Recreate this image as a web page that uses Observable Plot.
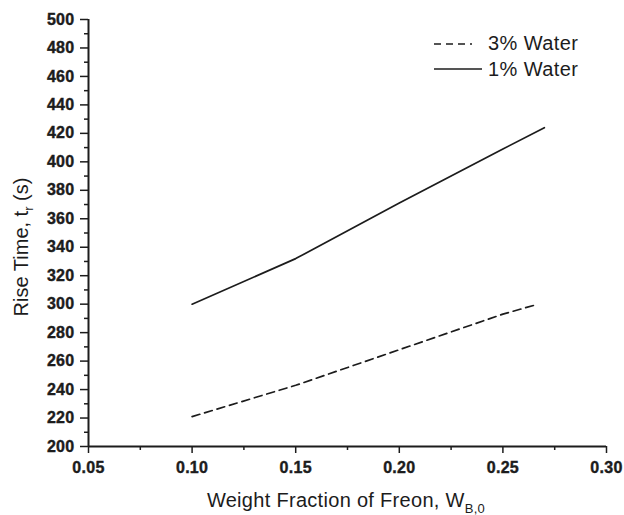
<!DOCTYPE html>
<html><head><meta charset="utf-8">
<script src="https://cdn.jsdelivr.net/npm/d3@7"></script>
<script src="https://cdn.jsdelivr.net/npm/@observablehq/plot@0.6"></script>
<style>
body{margin:0;background:#fff}
svg{font-family:"Liberation Sans",Arial,Helvetica,sans-serif}
svg text{font-weight:700}
svg text.lbl, svg text.lbl tspan{font-weight:400}
</style>
</head><body><div id="chart"></div>
<script>
// Series: 3% water (dashed)
const water3Fraction = [0.10, 0.15, 0.20, 0.25, 0.267];
const water3Rise     = [221, 243, 268, 293, 300];
// Series: 1% water (solid)
const water1Fraction = [0.10, 0.15, 0.20, 0.25, 0.27];
const water1Rise     = [300, 332, 371, 409, 424];

const seriesNames = ["3% Water", "1% Water"];
const xMajorTicks = [0.05, 0.10, 0.15, 0.20, 0.25, 0.30];
const xMinorTicks = [0.075, 0.125, 0.175, 0.225, 0.275];
const yMajorTicks = d3.range(200, 501, 20);
const yMinorTicks = d3.range(210, 500, 20);
const xLabel = ["Weight Fraction of Freon, W", "B,0"];
const yLabel = ["Rise Time, t", "r", " (s)"];

const rows3 = water3Fraction.map((x, i) => ({x, y: water3Rise[i], s: seriesNames[0]}));
const rows1 = water1Fraction.map((x, i) => ({x, y: water1Rise[i], s: seriesNames[1]}));

const ink = "#1c1c1c";
const plot = Plot.plot({
  width: 624, height: 515,
  marginLeft: 88, marginRight: 18, marginTop: 19, marginBottom: 69,
  style: {background: "white", color: ink, fontFamily: '"Liberation Sans",Arial,sans-serif', overflow: "visible"},
  x: {domain: [0.05, 0.30]},
  y: {domain: [200, 500]},
  marks: [
    Plot.axisY({ticks: yMajorTicks, tickSize: 8, tickPadding: 6, tickFormat: d => String(d), fontSize: 16, fontWeight: "bold", label: null, strokeWidth: 1.5}),
    Plot.axisY({ticks: yMinorTicks, tickSize: 4, tickFormat: () => "", label: null, strokeWidth: 1.5}),
    Plot.axisX({ticks: xMajorTicks, tickSize: 7, tickPadding: 8, tickFormat: d3.format(".2f"), fontSize: 16, fontWeight: "bold", label: null, strokeWidth: 1.5}),
    Plot.axisX({ticks: xMinorTicks, tickSize: 4, tickFormat: () => "", label: null, strokeWidth: 1.5}),
    Plot.ruleX([0.05], {stroke: ink, strokeWidth: 2}),
    Plot.ruleY([200], {stroke: ink, strokeWidth: 2}),
    Plot.line(rows3, {x: "x", y: "y", stroke: ink, strokeWidth: 1.7, strokeDasharray: "8,5"}),
    Plot.line(rows1, {x: "x", y: "y", stroke: ink, strokeWidth: 1.7})
  ]
});
document.getElementById("chart").append(plot);

const svg = d3.select(plot);
svg.selectAll("text").filter(function(){ return !this.classList.contains("lbl"); })
  .style("font-size", "16px").style("letter-spacing", "0.3px")
  .style("stroke", ink).style("stroke-width", "0.4px");

// axis labels
const xl = svg.append("text").attr("class", "lbl").attr("x", 346).attr("y", 507).attr("text-anchor", "middle")
  .attr("font-size", 20).attr("fill", ink).style("letter-spacing", "0.3px");
xl.append("tspan").text(xLabel[0]);
xl.append("tspan").attr("font-size", 13).attr("dy", 6).text(xLabel[1]);

const yl = svg.append("text").attr("class", "lbl").attr("transform", "translate(28,247) rotate(-90)").attr("text-anchor", "middle")
  .attr("font-size", 20).attr("fill", ink);
yl.append("tspan").text(yLabel[0]);
yl.append("tspan").attr("font-size", 13).attr("dy", 5).text(yLabel[1]);
yl.append("tspan").attr("dy", -5).text(yLabel[2]);

// legend
const lg = svg.append("g").attr("fill", ink).attr("font-size", 20).attr("text-anchor", "start");
lg.append("line").attr("x1", 434).attr("x2", 472).attr("y1", 44).attr("y2", 44)
  .attr("stroke", ink).attr("stroke-width", 1.6).attr("stroke-dasharray", "7,5");
lg.append("line").attr("x1", 434).attr("x2", 482).attr("y1", 69).attr("y2", 69)
  .attr("stroke", ink).attr("stroke-width", 1.6);
lg.append("text").attr("class", "lbl").attr("x", 488).attr("y", 50).attr("text-anchor", "start").style("letter-spacing", "0.4px").text(seriesNames[0]);
lg.append("text").attr("class", "lbl").attr("x", 488).attr("y", 76).attr("text-anchor", "start").style("letter-spacing", "0.4px").text(seriesNames[1]);
</script></body></html>
